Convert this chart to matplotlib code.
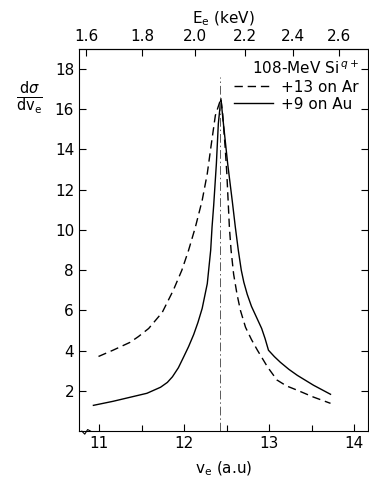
import numpy as np
import matplotlib
matplotlib.use("Agg")
import matplotlib.pyplot as plt
from matplotlib.lines import Line2D

# +9 on Au (solid)
v_au = [10.93, 11.16, 11.36, 11.56, 11.72, 11.8, 11.86, 11.93, 11.99, 12.05, 12.11, 12.16,
        12.21, 12.27, 12.31, 12.326, 12.345, 12.377, 12.40, 12.43,
        12.46, 12.51, 12.565, 12.60, 12.635, 12.67, 12.70, 12.74, 12.79, 12.85, 12.91,
        12.95, 12.99, 13.06, 13.13, 13.23, 13.33, 13.52, 13.72]
y_au = [1.28, 1.48, 1.68, 1.88, 2.18, 2.42, 2.7, 3.15, 3.67, 4.2, 4.8, 5.4,
        6.1, 7.33, 8.99, 10.14, 11.2, 13.29, 15.28, 16.53,
        15.28, 13.29, 11.4, 10.14, 8.99, 8.0, 7.4, 6.8, 6.2, 5.65, 5.1,
        4.6, 4.02, 3.7, 3.42, 3.07, 2.77, 2.28, 1.83]

# +13 on Ar (dashed)
v_ar = [10.99, 11.16, 11.36, 11.46, 11.58, 11.74, 11.87, 11.97, 12.05, 12.13, 12.21,
        12.27, 12.31, 12.365, 12.43,
        12.45, 12.48, 12.50, 12.515, 12.53, 12.55, 12.58, 12.62, 12.66, 12.72,
        12.79, 12.86, 12.98, 13.09, 13.2, 13.33, 13.52, 13.72]
y_ar = [3.71, 4.02, 4.41, 4.7, 5.1, 5.9, 7.0, 7.99, 8.99, 10.14, 11.47,
        12.8, 14.04, 15.69, 16.53,
        15.8, 14.12, 12.8, 11.47, 10.14, 8.99, 7.8, 6.8, 6.0, 5.16,
        4.55, 4.02, 3.18, 2.54, 2.25, 2.03, 1.69, 1.38]

v_peak = 12.42
e_ticks = [1.6, 1.8, 2.0, 2.2, 2.4, 2.6]
e_labels = ["1.6", "1.8", "2.0", "2.2", "2.4", "2.6"]
RY = 13.6057e-3  # keV per (a.u.)^2

fig = plt.figure(figsize=(3.69, 4.79), dpi=100)
ax = fig.add_axes([0.214, 0.100, 0.783, 0.798])

ax.plot(v_au, y_au, color="black", lw=1.0)
ax.plot(v_ar, y_ar, color="black", lw=1.0, dashes=(6, 3.5))
ax.vlines(v_peak, 0, 17.6, color="0.35", lw=0.7, linestyles=(0, (9, 3, 1.5, 3)))

ax.set_xlim(10.76, 14.16)
ax.set_ylim(0, 19.0)
ax.set_xticks([11, 12, 13, 14])
ax.set_xticks(np.arange(11.5, 14, 1.0), minor=True)
ax.set_yticks(range(2, 19, 2))
ax.tick_params(direction="in", length=5, width=0.8, labelsize=11, right=True)
ax.tick_params(which="minor", direction="in", length=4, width=0.8)
for s in ax.spines.values():
    s.set_linewidth(0.8)

top = ax.secondary_xaxis("top", functions=(lambda v: RY * np.asarray(v) ** 2,
                                           lambda e: np.sqrt(np.maximum(e, 1e-9) / RY)))
top.set_xticks(e_ticks)
top.set_xticklabels(e_labels)
top.tick_params(direction="in", length=5, width=0.8, labelsize=11)
top.set_xlabel(r"E$_\mathregular{e}$ (keV)", fontsize=11, labelpad=4)

ax.set_xlabel(r"v$_\mathregular{e}$ (a.u)", fontsize=11, labelpad=6)
fig.text(0.08, 0.795, r"$\frac{\mathrm{d}\sigma}{\mathrm{dv_e}}$", fontsize=15,
         ha="center", va="center")

# axis break on the bottom spine
ax.plot([0.01, 0.02, 0.03, 0.04], [0.0, -0.008, 0.004, 0.0], color="black", lw=0.8,
        transform=ax.transAxes, clip_on=False)

handles = [Line2D([], [], color="black", lw=1.0, dashes=(6, 3.5)),
           Line2D([], [], color="black", lw=1.0)]
leg = ax.legend(handles, ["+13 on Ar", "+9 on Au"], title=r"108-MeV Si$^{\,q+}$",
                loc="upper right", bbox_to_anchor=(1.0, 0.995), frameon=False,
                fontsize=11, title_fontsize=11, handlelength=2.6, handletextpad=0.5,
                labelspacing=0.15, borderaxespad=0.2)
leg._legend_box.align = "right"

fig.savefig("out.png", dpi=100)
